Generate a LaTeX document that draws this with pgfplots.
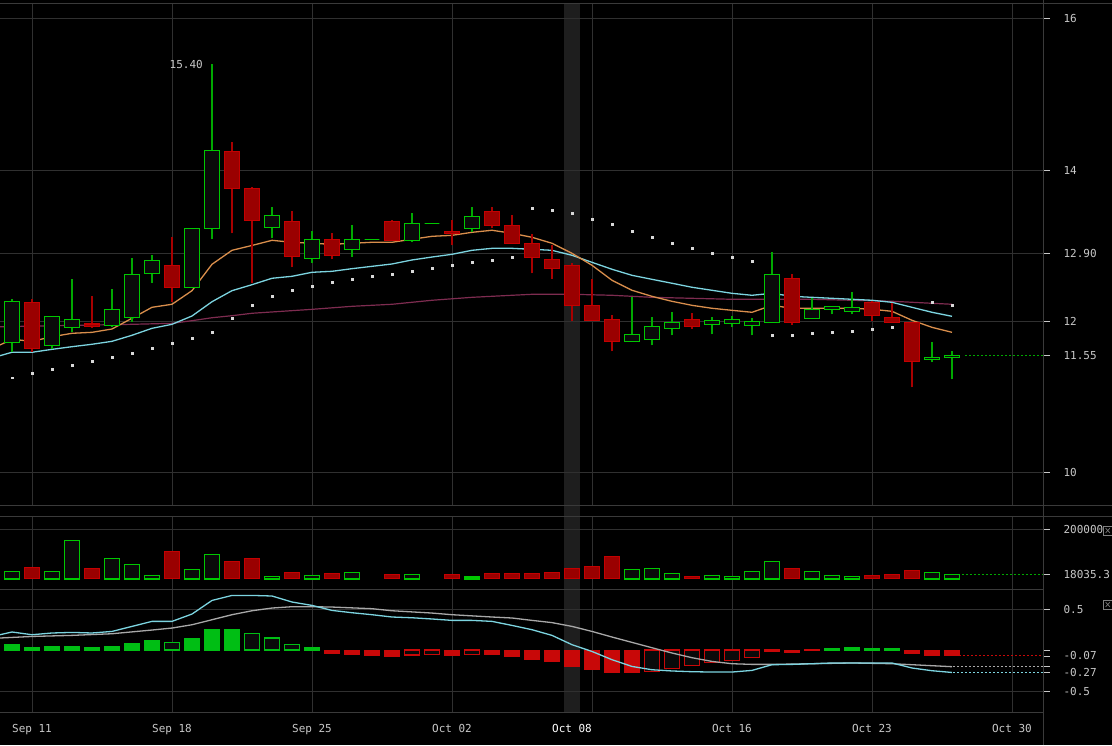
\documentclass[border=0pt]{standalone}
\usepackage{pgfplots}
\pgfplotsset{compat=1.18}
\usepackage{pgfplotstable}
\usepackage{fontspec}
\setmainfont{DejaVu Sans Mono}

\definecolor{gridc}{HTML}{303030}
\definecolor{framec}{HTML}{3A3A3A}
\definecolor{labc}{HTML}{C8C8C8}
\definecolor{bodyg}{HTML}{00C800}
\definecolor{wickg}{HTML}{00A800}
\definecolor{hollowc}{HTML}{0A0A0A}
\definecolor{bodyr}{HTML}{C40000}
\definecolor{fillr}{HTML}{9A0000}
\definecolor{wickr}{HTML}{A80000}
\definecolor{maorange}{HTML}{D98E4C}
\definecolor{macyan}{HTML}{7CD4E0}
\definecolor{mamaroon}{HTML}{7E2C50}
\definecolor{sarc}{HTML}{D8D8D8}
\definecolor{histg}{HTML}{00BE14}
\definecolor{histr}{HTML}{C80808}
\definecolor{sigc}{HTML}{A8A8A8}
\definecolor{cursorc}{HTML}{1E1E1E}

% candle marks: point sits at the low, heights come from visualization depends on
\pgfdeclareplotmark{gcandle}{%
  \pgfsetlinewidth{1.2pt}\pgfsetstrokecolor{wickg}%
  \pgfpathmoveto{\pgfpoint{0pt}{0pt}}\pgfpathlineto{\pgfpoint{0pt}{\cB pt}}%
  \pgfpathmoveto{\pgfpoint{0pt}{\cT pt}}\pgfpathlineto{\pgfpoint{0pt}{\cH pt}}%
  \pgfusepath{stroke}%
  \pgfsetlinewidth{1.5pt}\pgfsetstrokecolor{bodyg}\pgfsetfillcolor{hollowc}%
  \pgfpathrectanglecorners{\pgfpoint{-7.4pt}{\cB pt}}{\pgfpoint{7.4pt}{\cT pt}}%
  \pgfusepath{fill,stroke}}
\pgfdeclareplotmark{rcandle}{%
  \pgfsetlinewidth{1.2pt}\pgfsetstrokecolor{wickr}%
  \pgfpathmoveto{\pgfpoint{0pt}{0pt}}\pgfpathlineto{\pgfpoint{0pt}{\cB pt}}%
  \pgfpathmoveto{\pgfpoint{0pt}{\cT pt}}\pgfpathlineto{\pgfpoint{0pt}{\cH pt}}%
  \pgfusepath{stroke}%
  \pgfsetlinewidth{1.2pt}\pgfsetstrokecolor{bodyr}\pgfsetfillcolor{fillr}%
  \pgfpathrectanglecorners{\pgfpoint{-7.4pt}{\cB pt}}{\pgfpoint{7.4pt}{\cT pt}}%
  \pgfusepath{fill,stroke}}

\pgfplotstableread{
k o h l c
-1 11.49 11.75 11.45 11.73
0 11.72 12.30 11.60 12.26
2 11.68 12.07 11.64 12.066
3 11.92 12.556 11.862 12.026
5 11.942 12.423 11.94 12.159
6 12.053 12.833 11.995 12.622
7 12.635 12.877 12.511 12.807
9 12.45 13.23 12.45 13.23
10 13.23 15.40 13.085 14.262
13 13.243 13.508 13.098 13.402
15 12.828 13.198 12.775 13.085
17 12.947 13.27 12.854 13.085
18 13.085 13.085 13.085 13.085
20 13.066 13.429 13.049 13.296
21 13.296 13.296 13.296 13.296
23 13.23 13.508 13.185 13.389
31 11.735 12.325 11.735 11.828
32 11.762 12.053 11.683 11.934
33 11.907 12.119 11.815 11.987
35 11.96 12.053 11.828 12.013
36 11.974 12.066 11.92 12.026
37 11.947 12.04 11.815 12.0
38 11.987 12.913 11.987 12.622
40 12.04 12.312 12.04 12.159
41 12.159 12.198 12.093 12.198
42 12.132 12.384 12.093 12.185
46 11.497 11.722 11.458 11.524
47 11.524 11.603 11.233 11.55
}\greencandles

\pgfplotstableread{
k o h l c
1 12.251 12.29 11.60 11.643
4 11.964 12.335 11.92 11.929
8 12.741 13.111 12.259 12.45
11 14.249 14.376 13.164 13.759
12 13.759 13.77 12.503 13.336
14 13.323 13.463 12.714 12.854
16 13.085 13.164 12.82 12.868
19 13.323 13.34 13.066 13.066
22 13.19 13.34 13.005 13.164
24 13.455 13.508 13.23 13.27
25 13.27 13.402 13.03 13.032
26 13.032 13.151 12.635 12.847
27 12.82 13.005 12.563 12.696
28 12.741 12.767 12.0 12.212
29 12.212 12.556 12.013 12.013
30 12.026 12.087 11.603 11.735
34 12.026 12.106 11.902 11.934
39 12.569 12.622 11.951 11.987
43 12.251 12.265 12.0 12.079
44 12.053 12.238 11.987 11.987
45 11.987 11.987 11.127 11.471
}\redcandles

\pgfplotstableread{
k v
-0.6 11.687
0 11.762
1 11.735
2 11.796
3 11.841
4 11.854
5 11.898
6 12.04
7 12.185
8 12.225
9 12.405
10 12.754
11 12.939
12 13.003
13 13.071
14 13.045
15 13.032
16 13.018
17 13.032
18 13.045
19 13.045
20 13.085
21 13.124
22 13.137
23 13.177
24 13.204
25 13.164
26 13.111
27 13.032
28 12.899
29 12.741
30 12.542
31 12.41
32 12.33
33 12.264
34 12.211
35 12.172
36 12.145
37 12.119
38 12.211
39 12.172
40 12.172
41 12.172
42 12.172
43 12.159
44 12.132
45 12.013
46 11.92
47 11.854
}\maorange

\pgfplotstableread{
k v
-0.6 11.545
0 11.59
1 11.59
2 11.629
3 11.664
4 11.696
5 11.735
6 11.815
7 11.907
8 11.96
9 12.07
10 12.259
11 12.405
12 12.484
13 12.569
14 12.595
15 12.648
16 12.661
17 12.696
18 12.727
19 12.758
20 12.811
21 12.85
22 12.886
23 12.939
24 12.965
25 12.965
26 12.952
27 12.939
28 12.873
29 12.78
30 12.688
31 12.608
32 12.555
33 12.503
34 12.45
35 12.41
36 12.37
37 12.344
38 12.37
39 12.33
40 12.317
41 12.304
42 12.291
43 12.278
44 12.251
45 12.185
46 12.119
47 12.066
}\macyan

\pgfplotstableread{
k v
-0.6 11.928
6 11.96
8 11.973
9 12.008
10 12.047
11 12.074
12 12.106
15 12.158
17 12.198
19 12.225
21 12.278
23 12.317
25 12.344
26 12.357
28 12.357
30 12.344
32 12.317
34 12.304
36 12.291
38 12.291
40 12.291
42 12.278
44 12.265
46 12.238
47 12.225
}\mamaroon

\pgfplotstableread{
k v
0 11.254
1 11.312
2 11.365
3 11.418
4 11.471
5 11.524
6 11.577
7 11.643
8 11.709
9 11.775
10 11.854
11 12.040
12 12.212
13 12.331
14 12.41
15 12.463
16 12.516
17 12.556
18 12.595
19 12.622
20 12.661
21 12.701
22 12.741
23 12.78
24 12.807
25 12.847
26 13.495
27 13.468
28 13.429
29 13.349
30 13.283
31 13.19
32 13.111
33 13.032
34 12.966
35 12.899
36 12.847
37 12.794
38 11.815
39 11.815
40 11.841
41 11.854
42 11.868
43 11.894
44 11.921
46 12.251
47 12.212
}\sar

\pgfplotstableread{
k v
-1 62700
0 29100
2 29100
3 154500
5 81700
6 57400
7 12900
9 37200
10 97900
13 8900
15 12900
17 25100
20 17400
23 8100
31 37600
32 41700
33 21400
35 13300
36 9300
37 29500
38 70000
40 29500
41 13300
42 9300
46 25500
47 18035.3
}\volgreen

\pgfplotstableread{
k v
1 45300
4 41200
8 110000
11 69600
12 81700
14 25100
16 21000
19 17400
22 17400
24 21400
25 21400
26 21400
27 25500
28 41700
29 49700
30 90200
34 9300
39 41700
43 13300
44 17400
45 33600
}\volred

\pgfplotstableread{
k v
-1 0.017
0 0.067
2 0.045
3 0.045
5 0.045
6 0.079
7 0.115
9 0.14
10 0.249
11 0.249
41 0.022
42 0.034
44 0.022
}\histgf

\pgfplotstableread{
k v
1 0.027
4 0.027
8 0.091
12 0.2
13 0.148
14 0.067
15 0.027
43 0.022
}\histgh

\pgfplotstableread{
k v
16 -0.042
17 -0.055
18 -0.067
19 -0.079
22 -0.067
24 -0.055
25 -0.079
26 -0.115
27 -0.136
28 -0.197
29 -0.233
30 -0.27
31 -0.27
39 -0.027
45 -0.039
46 -0.063
47 -0.07
}\histrf

\pgfplotstableread{
k v
20 -0.058
21 -0.05
23 -0.05
32 -0.257
33 -0.221
34 -0.185
35 -0.148
36 -0.124
37 -0.087
38 -0.015
40 -0.005
}\histrh

\pgfplotstableread{
k v
-0.6 0.188
0 0.221
1 0.188
2 0.209
3 0.216
4 0.209
5 0.228
6 0.289
7 0.35
8 0.35
9 0.439
10 0.604
11 0.665
12 0.665
13 0.658
14 0.585
15 0.544
16 0.483
17 0.455
18 0.431
19 0.403
20 0.394
21 0.379
22 0.362
23 0.362
24 0.35
25 0.301
26 0.249
27 0.18
28 0.067
29 -0.015
30 -0.115
31 -0.197
32 -0.237
33 -0.252
34 -0.261
35 -0.265
36 -0.265
37 -0.245
38 -0.176
39 -0.172
40 -0.164
41 -0.155
42 -0.155
43 -0.155
44 -0.155
45 -0.216
46 -0.249
47 -0.27
}\macdline

\pgfplotstableread{
k v
-0.6 0.148
1 0.167
3 0.18
5 0.2
7 0.245
8 0.269
9 0.309
10 0.37
11 0.431
12 0.479
13 0.512
14 0.528
15 0.528
16 0.524
18 0.504
19 0.479
21 0.451
22 0.431
24 0.403
25 0.391
26 0.362
27 0.335
28 0.289
29 0.228
30 0.16
31 0.095
32 0.03
33 -0.034
34 -0.091
35 -0.136
36 -0.164
37 -0.172
38 -0.172
40 -0.164
42 -0.155
44 -0.164
45 -0.176
46 -0.188
47 -0.2
}\signal

\pgfplotsset{
  panel/.style={
    scale only axis,
    anchor=south west,
    xmin=-0.6, xmax=51.55,
    axis line style={draw=none},
    tick align=outside,
    major tick length=7pt,
    ytick pos=right, yticklabel pos=right,
    xtick={1,8,15,22,29,36,43,50},
    xmajorgrids, ymajorgrids,
    grid style={draw=gridc, line width=0.8pt},
    xtick style={draw=none},
    ytick style={draw=labc, line width=0.8pt},
    tick label style={font=\fontsize{11}{13}\selectfont, text=labc},
    yticklabel style={anchor=west, xshift=10pt},
    extra y tick style={grid=none},
    scaled y ticks=false,
    /pgf/number format/assume math mode=true,
  },
  candle/.style={only marks, scatter, point meta=x, mark=#1,
    visualization depends on={(min(\thisrow{o},\thisrow{c})-\thisrow{l})*75.6 \as \cB},
    visualization depends on={(max(\thisrow{o},\thisrow{c})-\thisrow{l})*75.6 \as \cT},
    visualization depends on={(\thisrow{h}-\thisrow{l})*75.6 \as \cH}},
  tail/.style={line width=1pt, dash pattern=on 2pt off 2pt, mark=none},
}

\begin{document}
\begin{tikzpicture}
\useasboundingbox (0pt,0pt) rectangle (1112pt,745pt);
\fill[black] (0pt,0pt) rectangle (1112pt,745pt);
\fill[cursorc] (564pt,33pt) rectangle (580pt,741.3pt);

% price
\begin{axis}[panel, at={(0pt,240pt)}, x=20pt, y=75.6pt,
  ymin=9.57, ymax=16.201,
  ytick={10,12,12.9,14,16}, yticklabels={10,12,12.90,14,16},
  extra y ticks={11.55}, extra y tick labels={11.55},
  xticklabels={,,,,,,,}]
\addplot[candle=gcandle] table[x=k, y=l] {\greencandles};
\addplot[candle=rcandle] table[x=k, y=l] {\redcandles};
\addplot[mamaroon, line width=1.2pt, mark=none] table[x=k, y=v] {\mamaroon};
\addplot[macyan, line width=1.3pt, mark=none] table[x=k, y=v] {\macyan};
\addplot[maorange, line width=1.3pt, mark=none] table[x=k, y=v] {\maorange};
\addplot[only marks, mark=square*, mark size=0.8pt, sarc] table[x=k, y=v] {\sar};
\addplot[tail, wickg] coordinates {(47.65,11.55) (51.55,11.55)};
\node[anchor=east, inner sep=0pt, xshift=-9pt, text=labc,
  font=\fontsize{11}{13}\selectfont] at (axis cs:10,15.40) {15.40};
\end{axis}

% volume
\begin{axis}[panel, at={(0pt,156pt)}, width=1043pt, height=73pt,
  ymin=-41400, ymax=253800,
  ytick={200000}, yticklabels={200000},
  extra y ticks={18035.3}, extra y tick labels={18035.3},
  xticklabels={,,,,,,,}]
\addplot[ybar, bar shift=0pt, bar width=14.8pt, fill=hollowc, draw=bodyg, line width=1.5pt]
  table[x=k, y=v] {\volgreen};
\addplot[ybar, bar shift=0pt, bar width=14.8pt, fill=fillr, draw=bodyr, line width=1.2pt]
  table[x=k, y=v] {\volred};
\addplot[tail, wickg] coordinates {(47.5,18035.3) (51.55,18035.3)};
\end{axis}

% macd
\begin{axis}[panel, at={(0pt,33pt)}, width=1043pt, height=123pt,
  ymin=-0.75, ymax=0.743,
  ytick={-0.5,0.5}, yticklabels={-0.5,0.5},
  extra y ticks={0,-0.07,-0.2,-0.27}, extra y tick labels={,-0.07,,-0.27},
  xticklabels={Sep 11,Sep 18,Sep 25,Oct 02,,Oct 16,Oct 23,Oct 30},
  xticklabel style={yshift=-1.5pt},
  extra x ticks={28}, extra x tick labels={Oct 08},
  extra x tick style={grid=none, xticklabel style={text=white}}]
\addplot[ybar, bar shift=0pt, bar width=15pt, fill=histg, draw=histg, line width=1pt]
  table[x=k, y=v] {\histgf};
\addplot[ybar, bar shift=0pt, bar width=14.8pt, fill=hollowc, draw=histg, line width=1.5pt]
  table[x=k, y=v] {\histgh};
\addplot[ybar, bar shift=0pt, bar width=15pt, fill=histr, draw=histr, line width=1pt]
  table[x=k, y=v] {\histrf};
\addplot[ybar, bar shift=0pt, bar width=14.8pt, fill=hollowc, draw=histr, line width=1.5pt]
  table[x=k, y=v] {\histrh};
\addplot[sigc, line width=1.3pt, mark=none] table[x=k, y=v] {\signal};
\addplot[macyan, line width=1.3pt, mark=none] table[x=k, y=v] {\macdline};
\addplot[tail, histr] coordinates {(47.15,-0.07) (51.55,-0.07)};
\addplot[tail, sigc] coordinates {(47.05,-0.2) (51.55,-0.2)};
\addplot[tail, macyan] coordinates {(47.05,-0.27) (51.55,-0.27)};
\end{axis}

% frame lines
\draw[framec, line width=0.8pt] (0pt,741.3pt) -- (1112pt,741.3pt);
\draw[framec, line width=0.8pt] (0pt,240pt) -- (1112pt,240pt);
\draw[framec, line width=0.8pt] (0pt,229pt) -- (1112pt,229pt);
\draw[framec, line width=0.8pt] (0pt,156pt) -- (1043pt,156pt);
\draw[framec, line width=0.8pt] (0pt,33pt) -- (1043pt,33pt);
\draw[framec, line width=0.8pt] (1043pt,0pt) -- (1043pt,745pt);
% panel close boxes
\foreach \yb in {210,136} {
  \fill[black] (1103.5pt,\yb pt) rectangle (1114pt,\yb pt+9pt);
  \draw[gray, line width=0.6pt] (1103.5pt,\yb pt) rectangle (1114pt,\yb pt+9pt);
  \draw[gray, line width=0.6pt] (1105.5pt,\yb pt+2pt) -- (1110pt,\yb pt+7pt)
    (1105.5pt,\yb pt+7pt) -- (1110pt,\yb pt+2pt);
}
\end{tikzpicture}
\end{document}
